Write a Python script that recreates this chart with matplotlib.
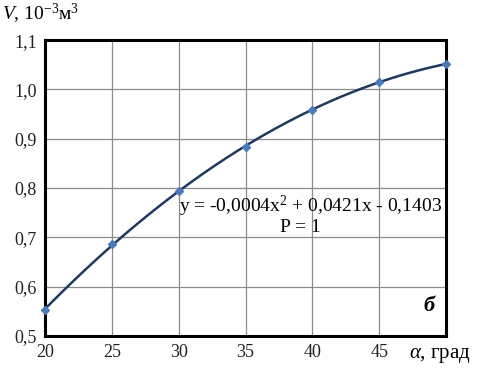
import numpy as np
import matplotlib.pyplot as plt
from matplotlib.ticker import FuncFormatter

# angle, degrees and volume, 10^-3 m^3
alpha = [20, 25, 30, 35, 40, 45, 50]
volume = [0.553, 0.686, 0.795, 0.883, 0.959, 1.015, 1.052]
x_ticks = [20, 25, 30, 35, 40, 45]
y_ticks = [0.5, 0.6, 0.7, 0.8, 0.9, 1.0, 1.1]

plt.rcParams['font.family'] = ['Liberation Serif', 'DejaVu Serif']
plt.rcParams['mathtext.fontset'] = 'custom'
plt.rcParams['mathtext.rm'] = 'Liberation Serif'
plt.rcParams['mathtext.it'] = 'Liberation Serif:italic'

fig = plt.figure(figsize=(4.81, 3.68), dpi=100)
ax = fig.add_axes([0.0936, 0.087, 0.834, 0.804])

# smooth trend line through the measured points
coef = np.polyfit(alpha, volume, 2)
xs = np.linspace(alpha[0], alpha[-1], 200)
ax.plot(xs, np.polyval(coef, xs), color='#1f3a5f', lw=1.8, zorder=3)
ax.plot(alpha, volume, ls='none', marker='D', ms=4.5, color='#4a7ab8',
        markeredgecolor='#4a7ab8', zorder=4, clip_on=False)

ax.set_xlim(20, 50)
ax.set_ylim(0.5, 1.1)
ax.set_xticks(x_ticks)
ax.set_yticks(y_ticks)
ax.yaxis.set_major_formatter(FuncFormatter(lambda v, p: f"{v:.1f}".replace('.', ',')))
ax.grid(True, color='#8c8c8c', lw=0.9)
ax.set_axisbelow(True)
for s in ax.spines.values():
    s.set_linewidth(2.2)
    s.set_color('black')
ax.tick_params(length=0, labelsize=13, pad=6, colors='#222222')

fig.text(0.005, 0.962, r'$\it{V}$, 10$^{-3}$м$^{3}$', fontsize=14, va='center')
fig.text(0.85, 0.035, r'$\alpha$, град', fontsize=15, va='center')
ax.text(48.7, 0.56, 'б', fontsize=16, style='italic', weight='bold', ha='center', va='center')

ax.text(30, 0.762, 'y = -0,0004x$^{2}$ + 0,0421x - 0,1403', fontsize=14, va='center', ha='left')
ax.text(39.1, 0.72, 'P = 1', fontsize=14, va='center', ha='center')

fig.savefig('out.png', dpi=100)
